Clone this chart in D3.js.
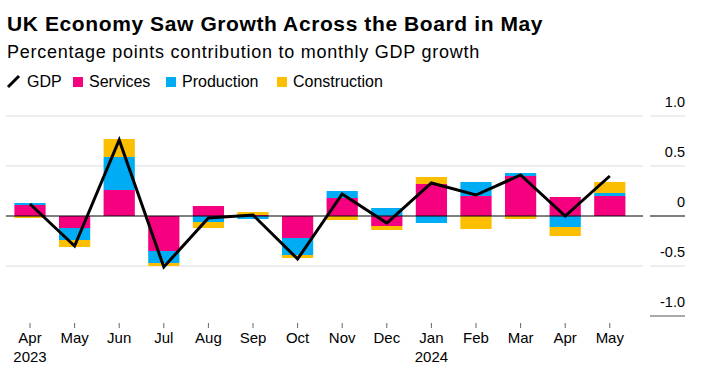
<!DOCTYPE html>
<html>
<head>
<meta charset="utf-8">
<script src="https://cdn.jsdelivr.net/npm/d3@7"></script>
<style>
    body { margin: 0; background: #fff; }
    svg { display: block; font-family: "Liberation Sans", Arial, sans-serif; }
</style>
</head>
<body>
<div id="chart"></div>
<script>
// Contributions to monthly GDP growth
const months = ["Apr", "May", "Jun", "Jul", "Aug", "Sep", "Oct", "Nov", "Dec", "Jan", "Feb", "Mar", "Apr", "May"];
const years = ["2023", "", "", "", "", "", "", "", "", "2024", "", "", "", ""];
const services = [0.11, -0.12, 0.26, -0.35, 0.10, 0.01, -0.22, 0.18, -0.10, 0.32, 0.20, 0.40, 0.19, 0.20];
const production = [0.02, -0.12, 0.33, -0.12, -0.06, -0.03, -0.17, 0.07, 0.08, -0.07, 0.14, 0.03, -0.11, 0.03];
const construction = [-0.02, -0.07, 0.18, -0.03, -0.06, 0.03, -0.03, -0.04, -0.04, 0.07, -0.13, -0.03, -0.09, 0.11];
const gdp = [0.12, -0.30, 0.76, -0.51, -0.02, 0.01, -0.43, 0.22, -0.07, 0.33, 0.21, 0.41, 0.00, 0.40];
const yTicks = [1.0, 0.5, 0, -0.5, -1.0];

const WIDTH = 705, HEIGHT = 376;
const COLORS = { services: "#f5007f", production: "#00adf5", construction: "#fcbe00" };
const keys = ["services", "production", "construction"];

const rows = months.map((m, i) => ({
    idx: i,
    services: services[i],
    production: production[i],
    construction: construction[i]
}));

const svg = d3.select("#chart")
    .append("svg")
    .attr("width", WIDTH)
    .attr("height", HEIGHT);

// Title and subtitle
svg.append("text")
    .attr("x", 7).attr("y", 31)
    .style("font-size", "21px")
    .style("font-weight", "700")
    .style("letter-spacing", "0.6px")
    .attr("fill", "#000")
    .text("UK Economy Saw Growth Across the Board in May");

svg.append("text")
    .attr("x", 7).attr("y", 58)
    .style("font-size", "18px")
    .style("letter-spacing", "0.75px")
    .attr("fill", "#000")
    .text("Percentage points contribution to monthly GDP growth");

// Legend
const legend = svg.append("g").style("font-size", "16px");
legend.append("line")
    .attr("x1", 8).attr("y1", 87).attr("x2", 19).attr("y2", 76)
    .attr("stroke", "#000").attr("stroke-width", 3);
legend.append("text").attr("x", 27).attr("y", 87).text("GDP");

const legendItems = [
    { key: "services", label: "Services", x: 73 },
    { key: "production", label: "Production", x: 166 },
    { key: "construction", label: "Construction", x: 277 }
];
legendItems.forEach(d => {
    legend.append("rect")
        .attr("x", d.x).attr("y", 77).attr("width", 10).attr("height", 10)
        .attr("fill", COLORS[d.key]);
    legend.append("text").attr("x", d.x + 16).attr("y", 87).text(d.label);
});

// Scales
const xScale = d3.scaleBand()
    .domain(d3.range(months.length))
    .range([7.7, 632.1])
    .paddingInner(0.3)
    .paddingOuter(0.15);

const yScale = d3.scaleLinear()
    .domain([-1, 1])
    .range([316, 116]);

// Gridlines across the plot (not at -1.0)
const grid = svg.append("g");
grid.selectAll("line")
    .data(yTicks.filter(v => v > -1 && v !== 0))
    .join("line")
    .attr("x1", 6).attr("x2", 643)
    .attr("y1", d => yScale(d)).attr("y2", d => yScale(d))
    .attr("stroke", "#dcdcdc").attr("stroke-width", 1);

// Right axis labels with their short rules
const yAxis = svg.append("g");
yAxis.selectAll("line")
    .data(yTicks)
    .join("line")
    .attr("x1", 650).attr("x2", 685)
    .attr("y1", d => yScale(d)).attr("y2", d => yScale(d))
    .attr("stroke", d => d === 0 ? "#000" : d === -1 ? "#555" : "#dcdcdc")
    .attr("stroke-width", 1);
yAxis.selectAll("text")
    .data(yTicks)
    .join("text")
    .attr("x", 685)
    .attr("y", d => yScale(d) - 9)
    .attr("text-anchor", "end")
    .style("font-size", "14.5px")
    .attr("fill", "#000")
    .text(d => d === 0 ? "0" : d.toFixed(1));

// Stacked bars, positives and negatives stacked separately
const series = d3.stack()
    .keys(keys)
    .offset(d3.stackOffsetDiverging)(rows);

svg.append("g")
    .selectAll("g")
    .data(series)
    .join("g")
    .attr("fill", d => COLORS[d.key])
    .selectAll("rect")
    .data(d => d)
    .join("rect")
    .attr("x", d => xScale(d.data.idx))
    .attr("width", xScale.bandwidth())
    .attr("y", d => yScale(Math.max(d[0], d[1])))
    .attr("height", d => Math.abs(yScale(d[0]) - yScale(d[1])));

// Zero line
svg.append("line")
    .attr("x1", 6).attr("x2", 643)
    .attr("y1", yScale(0)).attr("y2", yScale(0))
    .attr("stroke", "#000").attr("stroke-width", 1);

// GDP line
const line = d3.line()
    .x((d, i) => xScale(i) + xScale.bandwidth() / 2)
    .y(d => yScale(d));

svg.append("path")
    .datum(gdp)
    .attr("d", line)
    .attr("fill", "none")
    .attr("stroke", "#000")
    .attr("stroke-width", 3)
    .attr("stroke-linejoin", "miter");

// Bottom axis: small ticks, month labels, year labels
const xAxis = svg.append("g");
xAxis.selectAll("line")
    .data(months)
    .join("line")
    .attr("x1", (d, i) => xScale(i) + xScale.bandwidth() / 2)
    .attr("x2", (d, i) => xScale(i) + xScale.bandwidth() / 2)
    .attr("y1", 323).attr("y2", 328)
    .attr("stroke", "#666").attr("stroke-width", 1);
xAxis.selectAll("text.month")
    .data(months)
    .join("text")
    .attr("class", "month")
    .attr("x", (d, i) => xScale(i) + xScale.bandwidth() / 2)
    .attr("y", 343)
    .attr("text-anchor", "middle")
    .style("font-size", "15px")
    .text(d => d);
xAxis.selectAll("text.year")
    .data(years.map((y, i) => ({ y, i })).filter(d => d.y))
    .join("text")
    .attr("class", "year")
    .attr("x", d => xScale(d.i) + xScale.bandwidth() / 2)
    .attr("y", 362)
    .attr("text-anchor", "middle")
    .style("font-size", "15px")
    .text(d => d.y);
</script>
</body>
</html>
